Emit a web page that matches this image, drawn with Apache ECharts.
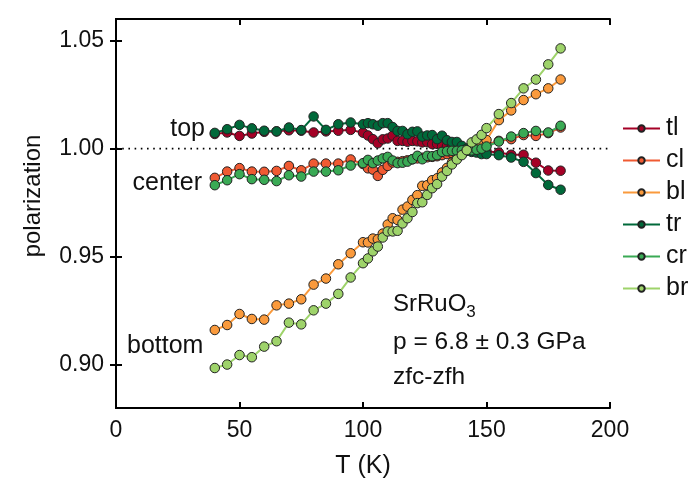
<!DOCTYPE html>
<html><head><meta charset="utf-8">
<script src="https://cdn.jsdelivr.net/npm/echarts@6/dist/echarts.min.js"></script>
<style>html,body{margin:0;padding:0;background:#fff}#c{width:689px;height:489px}</style>
</head><body><div id="c"></div>
<script>
var T = [40,45,50,55,60,65,70,75,80,85,90,95,
  100,102,104,106,108,110,112,114,116,118,120,122,124,126,128,130,132,134,136,138,140,142,144,146,148,150,
  155,160,165,170,175,180];
var tl = [1.0068,1.0075,1.0059,1.0070,1.0078,1.0080,1.0085,1.0083,1.0075,1.0080,1.0083,1.0087,
  1.0074,1.0061,1.0044,1.0025,1.0043,1.0047,1.0060,1.0036,1.0036,1.0032,1.0036,1.0034,1.0029,1.0030,1.0021,1.0022,1.0010,1.0012,1.0008,1.0010,1.0005,1.0000,0.9995,0.9992,0.9990,0.9988,
  0.9982,0.9972,0.9972,0.9935,0.9899,0.9898];
var cl = [0.9865,0.9894,0.9910,0.9894,0.9893,0.9897,0.9920,0.9900,0.9931,0.9931,0.9931,0.9950,
  0.9929,0.9909,0.9903,0.9874,0.9902,0.9920,0.9936,0.9939,0.9942,0.9946,0.9951,0.9955,0.9958,0.9960,0.9962,0.9965,0.9970,0.9975,0.9980,0.9985,0.9990,0.9995,1.0000,1.0005,1.0012,1.0020,
  1.0036,1.0044,1.0063,1.0059,1.0072,1.0098];
var bl = [0.9161,0.9184,0.9235,0.9212,0.9209,0.9275,0.9283,0.9303,0.9371,0.9399,0.9465,0.9516,
  0.9567,0.9566,0.9584,0.9581,0.9607,0.9649,0.9678,0.9670,0.9718,0.9732,0.9763,0.9785,0.9828,0.9831,0.9854,0.9863,0.9890,0.9911,0.9935,0.9955,0.9975,0.9990,1.0005,1.0010,1.0018,1.0040,
  1.0132,1.0177,1.0225,1.0252,1.0279,1.0320];
var tr = [1.0073,1.0090,1.0110,1.0094,1.0083,1.0080,1.0098,1.0086,1.0149,1.0087,1.0113,1.0121,
  1.0113,1.0118,1.0113,1.0106,1.0118,1.0118,1.0100,1.0082,1.0082,1.0067,1.0078,1.0080,1.0056,1.0061,1.0063,1.0044,1.0060,1.0039,1.0031,1.0031,1.0013,1.0000,0.9985,0.9982,0.9975,0.9975,
  0.9970,0.9959,0.9939,0.9887,0.9832,0.9810];
var cr = [0.9831,0.9854,0.9882,0.9859,0.9856,0.9850,0.9877,0.9871,0.9894,0.9894,0.9900,0.9922,
  0.9933,0.9948,0.9933,0.9945,0.9955,0.9962,0.9945,0.9933,0.9935,0.9940,0.9951,0.9967,0.9951,0.9967,0.9965,0.9970,0.9985,0.9988,0.9990,0.9990,0.9992,0.9990,0.9992,0.9995,1.0000,1.0010,
  1.0033,1.0056,1.0072,1.0082,1.0075,1.0106];
var br = [0.8985,0.9001,0.9045,0.9035,0.9084,0.9109,0.9195,0.9187,0.9252,0.9283,0.9328,0.9404,
  0.9470,0.9492,0.9525,0.9547,0.9589,0.9617,0.9617,0.9620,0.9654,0.9678,0.9707,0.9748,0.9752,0.9786,0.9817,0.9836,0.9871,0.9897,0.9927,0.9950,0.9970,0.9993,1.0029,1.0043,1.0064,1.0095,
  1.0160,1.0211,1.0279,1.0320,1.0390,1.0464];
var seriesNames = ['tl','cl','bl','tr','cr','br'];
var seriesData = [tl, cl, bl, tr, cr, br];
var colors = ['#a50026','#f05a32','#fa9a3c','#00693a','#3aaa55','#9ed36a'];
var yTicks = [0.90, 0.95, 1.00, 1.05];

var FONT = '"Liberation Sans", Arial, sans-serif';
var chart = echarts.init(document.getElementById('c'), null, {renderer: 'canvas'});
var axisLine = {show: true, lineStyle: {color: '#000', width: 2}};
var axisTick = {show: true, inside: true, length: 6, lineStyle: {color: '#000', width: 2}};

var series = seriesNames.map(function (n, i) {
  return {
    name: n, type: 'line',
    data: T.map(function (t, j) { return [t, seriesData[i][j]]; }),
    symbol: 'circle', symbolSize: 9.5,
    lineStyle: {color: colors[i], width: 2},
    itemStyle: {color: colors[i], borderColor: '#222', borderWidth: 1},
    emphasis: {disabled: true},
    z: 3 + i
  };
});
series.unshift({
  name: 'ref', type: 'line', data: [[0, 1.0], [200, 1.0]], symbol: 'none',
  lineStyle: {color: '#000', width: 1.6, type: [1.6, 4.6]}, z: 2, silent: true
});

function txt(s, size) { return {text: s, fill: '#111', font: size + 'px ' + FONT}; }

chart.setOption({
  animation: false,
  backgroundColor: '#fff',
  textStyle: {fontFamily: FONT},
  grid: {left: 116, right: 79, top: 19, bottom: 81},
  legend: {
    data: seriesNames, orient: 'vertical', left: 617, top: 111,
    itemWidth: 37, itemHeight: 8, itemGap: 7,
    textStyle: {fontSize: 25, color: '#111', fontFamily: FONT, padding: [0, 0, 0, 1]}
  },
  xAxis: [{
    type: 'value', min: 0, max: 200, interval: 50,
    name: 'T (K)', nameLocation: 'middle', nameGap: 46,
    nameTextStyle: {fontSize: 25, color: '#111', fontFamily: FONT},
    axisLine: axisLine, axisTick: axisTick,
    axisLabel: {fontSize: 23, color: '#111', margin: 11, fontFamily: FONT},
    splitLine: {show: false}
  }, {
    type: 'value', min: 0, max: 200, interval: 50, position: 'top',
    axisLine: axisLine, axisTick: axisTick, axisLabel: {show: false}, splitLine: {show: false}
  }],
  yAxis: [{
    type: 'value', min: 0.88, max: 1.06,
    axisLine: axisLine,
    axisTick: Object.assign({customValues: yTicks}, axisTick),
    axisLabel: {customValues: yTicks, fontSize: 23, color: '#111', margin: 12, fontFamily: FONT,
      formatter: function (v) { return v.toFixed(2); }},
    splitLine: {show: false}
  }, {
    type: 'value', min: 0.88, max: 1.06, position: 'right',
    axisLine: axisLine,
    axisTick: Object.assign({customValues: yTicks}, axisTick),
    axisLabel: {show: false}, splitLine: {show: false}
  }],
  graphic: [
    {type: 'text', x: 33, y: 196, rotation: Math.PI / 2, style: {
      text: 'polarization', fill: '#111', font: '24px ' + FONT, align: 'center', verticalAlign: 'middle'}},
    {type: 'text', right: 689 - 205, top: 117, style: txt('top', 25)},
    {type: 'text', right: 689 - 202, top: 171, style: txt('center', 25)},
    {type: 'text', left: 127, top: 334, style: txt('bottom', 25)},
    {type: 'text', left: 393, top: 292, style: {
      text: '{a|SrRuO}{s|3}', rich: {
        a: {fontSize: 24, fontFamily: FONT, fill: '#111', verticalAlign: 'bottom', lineHeight: 28},
        s: {fontSize: 17, fontFamily: FONT, fill: '#111', verticalAlign: 'bottom', lineHeight: 18, padding: [0, 0, -5, 0]}
      }}},
    {type: 'text', left: 393, top: 330, style: txt('p = 6.8 \u00b1 0.3 GPa', 24.5)},
    {type: 'text', left: 393, top: 365, style: txt('zfc-zfh', 24.5)}
  ],
  series: series
});
</script></body></html>
